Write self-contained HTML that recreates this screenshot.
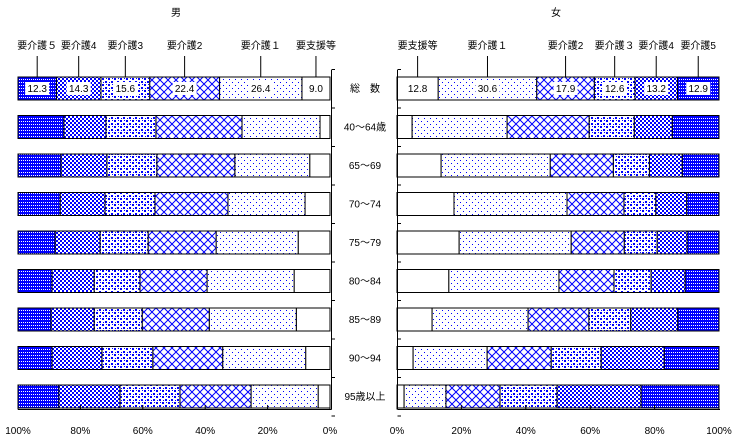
<!DOCTYPE html>
<html><head><meta charset="utf-8">
<style>
body{margin:0;background:#fff;}
svg text{font-family:"Liberation Sans","Noto Sans CJK JP",sans-serif;font-size:10px;fill:#000;}
</style></head>
<body>
<svg id="chart" width="737" height="439" xmlns="http://www.w3.org/2000/svg">
<defs>
<pattern id="p5" width="2" height="3" patternUnits="userSpaceOnUse"><rect width="2" height="3" fill="#0000ff"/><rect x="1" y="1" width="1" height="1" fill="#fff"/></pattern>
<pattern id="p4" width="4" height="4" patternUnits="userSpaceOnUse"><rect width="4" height="4" fill="#fff"/><rect width="2" height="2" fill="#0000ff"/><rect x="2" y="2" width="2" height="2" fill="#0000ff"/></pattern>
<pattern id="p3" width="6" height="6" patternUnits="userSpaceOnUse"><rect width="6" height="6" fill="#fff"/><rect x="0" y="0" width="2" height="2" fill="#0000ff"/><rect x="3" y="3" width="2" height="2" fill="#0000ff"/><rect x="4" y="0" width="1" height="1" fill="#0000ff"/><rect x="1" y="4" width="1" height="1" fill="#0000ff"/></pattern>
<pattern id="p2" width="8" height="8" patternUnits="userSpaceOnUse"><rect width="8" height="8" fill="#fff"/><path d="M0 0L8 8M8 0L0 8" stroke="#0000ff" stroke-width="1"/></pattern>
<pattern id="p1" width="6" height="6" patternUnits="userSpaceOnUse"><rect width="6" height="6" fill="#fff"/><rect x="1" y="1" width="1" height="1" fill="#0000ff"/><rect x="4" y="4" width="1" height="1" fill="#0000ff"/></pattern>
</defs>
<g id="g"></g>
</svg>
<script>
const categories=["総　数","40～64歳","65～69","70～74","75～79","80～84","85～89","90～94","95歳以上"];
const levelsMale=["要介護５","要介護4","要介護3","要介護2","要介護１","要支援等"];
const levelsFemale=["要支援等","要介護１","要介護2","要介護３","要介護4","要介護5"];
const male=[
[12.3,14.3,15.6,22.4,26.4,9.0],
[14.7,13.5,16.0,27.6,25.0,3.2],
[13.8,14.7,16.0,25.0,24.0,6.5],
[13.5,14.4,16.0,23.4,24.7,8.0],
[11.9,14.4,15.4,21.8,26.3,10.2],
[10.9,13.5,14.7,21.5,27.9,11.5],
[10.6,13.8,15.4,21.5,27.9,10.8],
[10.9,16.0,16.3,22.4,26.6,7.8],
[13.1,19.6,19.2,22.8,21.5,3.8]];
const female=[
[12.8,30.6,17.9,12.6,13.2,12.9],
[4.7,29.5,25.5,14.0,11.8,14.5],
[13.7,33.9,19.6,11.2,10.2,11.4],
[17.7,35.1,17.7,9.9,9.6,10.0],
[19.3,34.8,16.5,10.2,9.3,9.9],
[16.1,34.2,17.1,11.5,10.6,10.5],
[10.9,29.8,18.9,13.0,14.6,12.8],
[5.0,23.0,19.9,15.5,19.6,17.0],
[2.2,13.0,16.8,17.7,26.1,24.2]];
const ticks=["0%","20%","40%","60%","80%","100%"];
const maleFill=["url(#p5)","url(#p4)","url(#p3)","url(#p2)","url(#p1)","#fff"];
const femaleFill=["#fff","url(#p1)","url(#p2)","url(#p3)","url(#p4)","url(#p5)"];

const NS="http://www.w3.org/2000/svg";
const g=document.getElementById('g');
function mk(t,a,txt){const e=document.createElementNS(NS,t);for(const k in a)e.setAttribute(k,a[k]);if(txt!==undefined)e.textContent=txt;g.appendChild(e);return e;}
const mL=330,mW=312;
const fL=397,fW=322;
const xm=p=>mL-p*mW/100;
const xf=p=>fL+p*fW/100;
const rowY=i=>77+i*38.5;
const H=23;

let t=mk('text',{x:176,y:16,'text-anchor':'middle','font-size':'12'},'男');

t=mk('text',{x:556,y:16,'text-anchor':'middle','font-size':'12'},'女');


categories.forEach((c,i)=>{
  const y=rowY(i);
  let cum=0;
  for(let k=male[i].length-1;k>=0;k--){
    const v=male[i][k];
    const r=mk('rect',{x:xm(cum+v),y:y,width:xm(cum)-xm(cum+v),height:H,fill:maleFill[k],stroke:'#000','stroke-width':1});
    
    
    if(i===0){
      const cx=(xm(cum)+xm(cum+v))/2;
      const lb=mk('rect',{x:cx-12,y:y+5,width:24,height:13,fill:'#fff'});
      
      
      const tx=mk('text',{x:cx,y:y+15,'text-anchor':'middle'},v.toFixed(1));
      
      
      mk('line',{x1:cx,y1:56,x2:cx,y2:y,stroke:'#000'});
      const lt=mk('text',{x:cx,y:49,'text-anchor':'middle'},levelsMale[k]);
      
      
    }
    cum+=v;
  }
  cum=0;
  female[i].forEach((v,k)=>{
    const r=mk('rect',{x:xf(cum),y:y,width:xf(cum+v)-xf(cum),height:H,fill:femaleFill[k],stroke:'#000','stroke-width':1});
    
    
    if(i===0){
      const cx=(xf(cum)+xf(cum+v))/2;
      const lb=mk('rect',{x:cx-12,y:y+5,width:24,height:13,fill:'#fff'});
      
      
      const tx=mk('text',{x:cx,y:y+15,'text-anchor':'middle'},v.toFixed(1));
      
      
      mk('line',{x1:cx,y1:56,x2:cx,y2:y,stroke:'#000'});
      const lt=mk('text',{x:cx,y:49,'text-anchor':'middle'},levelsFemale[k]);
      
      
    }
    cum+=v;
  });
  const cl=mk('text',{x:365,y:y+15,'text-anchor':'middle'},c);
  
  
});
mk('line',{x1:331.5,y1:70,x2:331.5,y2:409.5,stroke:'#000'});
mk('line',{x1:18,y1:409.5,x2:331.5,y2:409.5,stroke:'#000'});
mk('line',{x1:397.5,y1:70,x2:397.5,y2:409.5,stroke:'#000'});
mk('line',{x1:397.5,y1:409.5,x2:720,y2:409.5,stroke:'#000'});
for(let i=0;i<=categories.length;i++){
  const yy=rowY(i)-7.5;
  mk('line',{x1:331.5,y1:yy,x2:335,y2:yy,stroke:'#000'});
  mk('line',{x1:397.5,y1:yy,x2:401,y2:yy,stroke:'#000'});
}
ticks.forEach((tk,i)=>{
  const p=i*20;
  mk('line',{x1:xm(p),y1:405,x2:xm(p),y2:409.5,stroke:'#000'});
  mk('line',{x1:xf(p),y1:405,x2:xf(p),y2:409.5,stroke:'#000'});
  const a=mk('text',{x:xm(p),y:434,'text-anchor':'middle','font-size':'9'},tk);
  
  
  const b=mk('text',{x:xf(p),y:434,'text-anchor':'middle','font-size':'9'},tk);
  
  
});
</script>
</body></html>
